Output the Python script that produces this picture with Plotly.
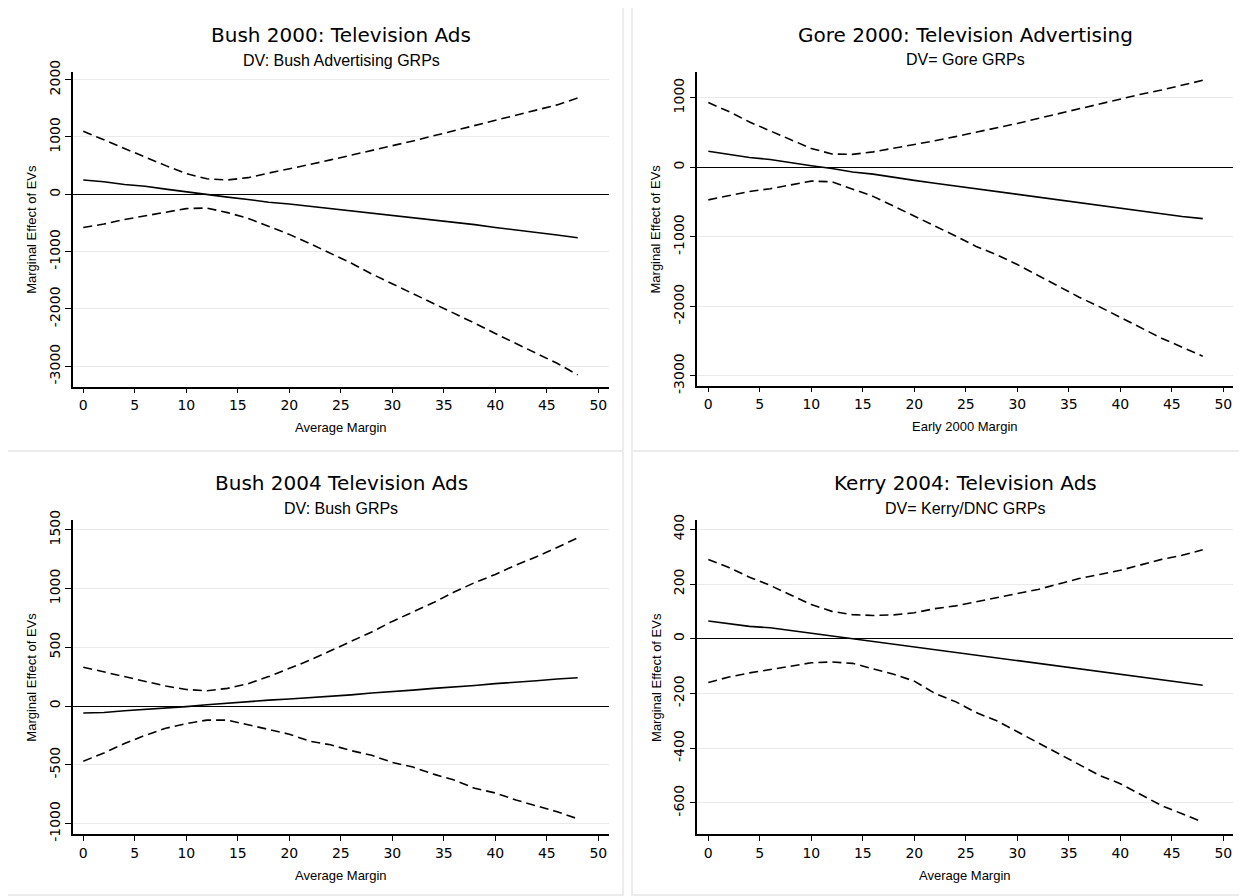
import plotly.graph_objects as go

W, H = 1247, 896
# page offset from the default html body margin
OX, OY = -8, -8

margin_x = [0, 2, 4, 6, 8, 10, 12, 14, 16, 18, 20, 22, 24, 26, 28, 30, 32, 34, 36, 38, 40, 42, 44, 46, 48]

# Panel 1: Bush 2000
bush00_est = [250, 220, 170, 140, 90, 40, 0, -50, -90, -140, -170, -210, -250, -290, -330, -370, -400, -440, -490, -530, -580, -620, -660, -710, -760]
bush00_hi = [1100, 950, 790, 640, 500, 360, 270, 250, 290, 370, 440, 520, 600, 680, 760, 850, 930, 1020, 1110, 1200, 1290, 1380, 1470, 1560, 1680]
bush00_lo = [-580, -520, -440, -380, -310, -250, -240, -320, -420, -560, -700, -860, -1030, -1200, -1390, -1560, -1740, -1910, -2080, -2250, -2430, -2600, -2770, -2950, -3150]

# Panel 2: Gore 2000
gore00_est = [230, 180, 140, 110, 60, 20, -20, -70, -100, -150, -190, -230, -270, -310, -350, -390, -430, -470, -520, -550, -590, -630, -670, -710, -740]
gore00_hi = [930, 800, 650, 520, 390, 270, 190, 185, 220, 270, 320, 380, 440, 500, 570, 630, 700, 770, 850, 920, 990, 1050, 1110, 1180, 1250]
gore00_lo = [-470, -410, -350, -310, -250, -200, -210, -310, -420, -560, -700, -840, -990, -1140, -1260, -1400, -1560, -1720, -1870, -2010, -2160, -2310, -2460, -2590, -2720]

# Panel 3: Bush 2004
bush04_est = [-60, -55, -40, -30, -15, -5, 10, 25, 40, 50, 60, 70, 80, 95, 110, 120, 135, 150, 160, 175, 190, 200, 215, 230, 240]
bush04_hi = [330, 290, 250, 210, 170, 140, 130, 150, 190, 250, 320, 390, 470, 550, 630, 720, 800, 880, 970, 1050, 1120, 1200, 1270, 1350, 1430]
bush04_lo = [-470, -400, -320, -250, -190, -150, -120, -120, -160, -200, -240, -300, -330, -380, -420, -480, -520, -580, -630, -700, -740, -800, -850, -900, -960]

# Panel 4: Kerry 2004
kerry04_est = [65, 55, 45, 40, 30, 20, 10, 0, -10, -20, -30, -40, -50, -60, -70, -80, -90, -100, -110, -120, -130, -140, -150, -160, -170]
kerry04_hi = [290, 260, 225, 195, 160, 125, 100, 88, 85, 87, 95, 110, 120, 135, 150, 165, 180, 200, 220, 235, 250, 270, 290, 305, 325]
kerry04_lo = [-160, -140, -125, -112, -100, -88, -85, -90, -110, -130, -155, -200, -230, -270, -300, -340, -380, -420, -460, -500, -530, -570, -610, -640, -670]

titles = ["Bush 2000: Television Ads", "Gore 2000: Television Advertising",
          "Bush 2004 Television Ads", "Kerry 2004: Television Ads"]
subtitles = ["DV: Bush Advertising GRPs", "DV= Gore GRPs", "DV: Bush GRPs", "DV= Kerry/DNC GRPs"]
xtitles = ["Average Margin", "Early 2000 Margin", "Average Margin", "Average Margin"]
ytitle = "Marginal Effect of EVs"
xticks = [0, 5, 10, 15, 20, 25, 30, 35, 40, 45, 50]
yticks = [
    [-3000, -2000, -1000, 0, 1000, 2000],
    [-3000, -2000, -1000, 0, 1000],
    [-1000, -500, 0, 500, 1000, 1500],
    [-600, -400, -200, 0, 200, 400],
]
series = [
    (bush00_est, bush00_hi, bush00_lo),
    (gore00_est, gore00_hi, gore00_lo),
    (bush04_est, bush04_hi, bush04_lo),
    (kerry04_est, kerry04_hi, kerry04_lo),
]

# layout geometry (pixels, as seen on the page)
plot_px = [
    (73, 609, 72, 386.7),
    (697.3, 1233, 71.7, 385.7),
    (73, 609, 520, 834.3),
    (697.3, 1233, 520, 834.3),
]
panel_px = [
    (7, 623, 3, 451),
    (632, 1246, 3, 451),
    (7, 623, 451, 895),
    (632, 1246, 451, 895),
]
xranges = [[-1.0, 51.04], [-1.07, 50.94], [-1.0, 51.04], [-1.07, 50.94]]
yranges = [[-3358, 2134], [-3144, 1374], [-1092, 1583], [-715, 434]]


def px_x(p):
    return (p + OX) / W


def px_y(p):
    return 1 - (p + OY) / H


fig = go.Figure()
TICKFONT = dict(family="DejaVu Sans", size=14, color="black")
SMALLFONT = dict(family="Liberation Sans", size=13, color="black")

shapes = []
annotations = []
layout_axes = {}
for i in range(4):
    n = "" if i == 0 else str(i + 1)
    xa, ya = "x" + n, "y" + n
    est, hi, lo = series[i]
    for vals, dash in ((hi, "9px,5px"), (lo, "9px,5px"), (est, "solid")):
        fig.add_trace(go.Scatter(x=margin_x, y=vals, mode="lines", xaxis=xa, yaxis=ya,
                                 line=dict(color="black", width=1.6, dash=dash),
                                 showlegend=False, hoverinfo="skip"))
    x0, x1, y0, y1 = plot_px[i]
    layout_axes["xaxis" + n] = dict(
        domain=[px_x(x0), px_x(x1)], range=xranges[i], anchor=ya, automargin=False,
        tickvals=xticks, ticktext=[str(v) for v in xticks],
        ticks="outside", ticklen=5, tickwidth=1.2, tickcolor="black",
        showline=True, linecolor="black", linewidth=1.5, showgrid=False, zeroline=False,
        tickfont=TICKFONT,
    )
    layout_axes["yaxis" + n] = dict(
        domain=[px_y(y1), px_y(y0)], range=yranges[i], anchor=xa, automargin=False,
        tickvals=yticks[i], ticktext=[str(v) for v in yticks[i]],
        ticks="outside", ticklen=6, tickwidth=1.2, tickcolor="black",
        showline=True, linecolor="black", linewidth=1.5, showgrid=True, gridcolor="#eaeaea",
        gridwidth=1, zeroline=True, zerolinecolor="black", zerolinewidth=1.2,
        tickangle=-90, tickfont=TICKFONT,
    )
    cx = px_x((x0 + x1) / 2)
    annotations.append(dict(text=titles[i], x=cx, y=px_y(y0 - 37), xref="paper", yref="paper",
                            xanchor="center", yanchor="middle", showarrow=False,
                            font=dict(family="DejaVu Sans", size=20, color="black")))
    annotations.append(dict(text=subtitles[i], x=cx, y=px_y(y0 - 12), xref="paper", yref="paper",
                            xanchor="center", yanchor="middle", showarrow=False,
                            font=dict(family="Liberation Sans", size=16, color="black")))
    annotations.append(dict(text=xtitles[i], x=cx, y=px_y(y1 + 41), xref="paper", yref="paper",
                            xanchor="center", yanchor="middle", showarrow=False, font=SMALLFONT))
    annotations.append(dict(text=ytitle, x=px_x(x0 - 41.5), y=px_y((y0 + y1) / 2), xref="paper",
                            yref="paper", xanchor="center", yanchor="middle", textangle=-90,
                            showarrow=False, font=SMALLFONT))
    bx0, bx1, by0, by1 = panel_px[i]
    shapes.append(dict(type="rect", xref="paper", yref="paper", x0=px_x(bx0), x1=px_x(bx1),
                       y0=px_y(by1), y1=px_y(by0), line=dict(color="#ececec", width=2),
                       layer="below"))

fig.update_layout(
    width=W, height=H, autosize=False,
    margin=dict(l=0, r=0, t=0, b=0, pad=0, autoexpand=False),
    paper_bgcolor="white", plot_bgcolor="white",
    shapes=shapes, annotations=annotations, showlegend=False,
    **layout_axes,
)

fig.write_html("out.html")
